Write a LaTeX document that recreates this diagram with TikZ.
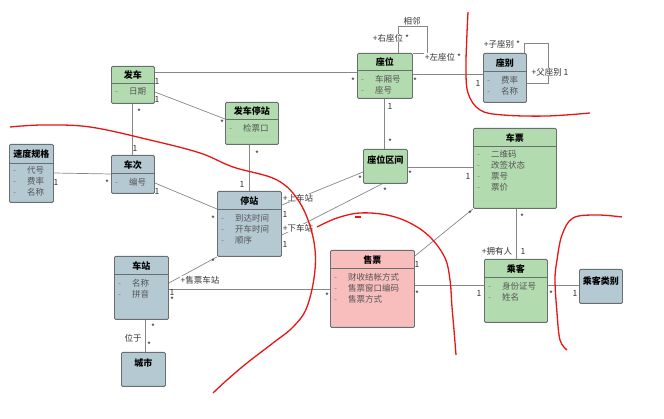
\documentclass[tikz,border=0pt]{standalone}
\usepackage{fontspec}
\newfontfamily\cjk{Noto Sans CJK SC}
\definecolor{clsgreen}{RGB}{179,219,176}
\definecolor{clsblue}{RGB}{181,201,211}
\definecolor{clspink}{RGB}{248,189,189}
\definecolor{clsborder}{RGB}{105,110,110}
\definecolor{linegray}{RGB}{135,135,135}
\definecolor{attrgray}{RGB}{85,85,85}
\definecolor{penred}{RGB}{235,20,20}
\newcommand{\attr}[1]{\makebox[14pt][l]{\color{gray}-}#1}

\begin{document}
\begin{tikzpicture}[x=1pt,y=-1pt,
    every node/.style={inner sep=0pt,font=\cjk\fontsize{8.5}{11}\selectfont},
    cls/.style={draw=clsborder,line width=0.9pt,rounded corners=1.2pt,anchor=north west},
    title/.style={font=\cjk\bfseries\fontsize{9}{11}\selectfont},
    attrs/.style={anchor=north west,align=left,text=attrgray},
    divider/.style={draw=clsborder,line width=0.8pt},
    assoc/.style={draw=linegray,line width=0.7pt},
    mult/.style={text=black!80,font=\cjk\fontsize{8.5}{10}\selectfont},
    star/.style={mult,yshift=-2.5pt},
    role/.style={fill=white,inner sep=0.5pt,text=black!80}]
  \useasboundingbox (0,0) rectangle (664,419);

  % classes, top row
  \node[cls,fill=clsgreen,minimum width=43pt,minimum height=37pt] (fache) at (111,66) {};
  \node[title] (fache-t) at ([yshift=-9pt]fache.north) {发车};
  \draw[divider] ([yshift=-17pt]fache.north west) -- ([yshift=-17pt]fache.north east);
  \node[attrs] (fache-a) at ([xshift=4pt,yshift=-21.7pt]fache.north west) {\attr{日期}};

  \node[cls,fill=clsgreen,minimum width=53pt,minimum height=42pt] (fcts) at (225,102) {};
  \node[title] (fcts-t) at ([yshift=-9pt]fcts.north) {发车停站};
  \draw[divider] ([yshift=-17pt]fcts.north west) -- ([yshift=-17pt]fcts.north east);
  \node[attrs] (fcts-a) at ([xshift=4pt,yshift=-21.7pt]fcts.north west) {\attr{检票口}};

  \node[cls,fill=clsgreen,minimum width=55pt,minimum height=45pt] (zuowei) at (357,53) {};
  \node[title] (zuowei-t) at ([yshift=-9pt]zuowei.north) {座位};
  \draw[divider] ([yshift=-17pt]zuowei.north west) -- ([yshift=-17pt]zuowei.north east);
  \node[attrs] (zuowei-a) at ([xshift=4pt,yshift=-21.7pt]zuowei.north west) {\attr{车厢号}\\\attr{座号}};

  \node[cls,fill=clsblue,minimum width=43pt,minimum height=49pt] (zuobie) at (483,53) {};
  \node[title] (zuobie-t) at ([yshift=-10pt]zuobie.north) {座别};
  \draw[divider] ([yshift=-18pt]zuobie.north west) -- ([yshift=-18pt]zuobie.north east);
  \node[attrs] (zuobie-a) at ([xshift=4pt,yshift=-22.7pt]zuobie.north west) {\attr{费率}\\\attr{名称}};

  % classes, middle
  \node[cls,fill=clsblue,minimum width=44pt,minimum height=58pt] (sudu) at (9,144) {};
  \node[title] (sudu-t) at ([yshift=-10.5pt]sudu.north) {速度规格};
  \draw[divider] ([yshift=-19pt]sudu.north west) -- ([yshift=-19pt]sudu.north east);
  \node[attrs] (sudu-a) at ([xshift=4pt,yshift=-22.7pt]sudu.north west) {\attr{代号}\\\attr{费率}\\\attr{名称}};

  \node[cls,fill=clsblue,minimum width=43pt,minimum height=38pt] (checi) at (111,155) {};
  \node[title] (checi-t) at ([yshift=-10pt]checi.north) {车次};
  \draw[divider] ([yshift=-18pt]checi.north west) -- ([yshift=-18pt]checi.north east);
  \node[attrs] (checi-a) at ([xshift=4pt,yshift=-22.7pt]checi.north west) {\attr{编号}};

  \node[cls,fill=clsblue,minimum width=64pt,minimum height=65pt] (tingzhan) at (217,191) {};
  \node[title] (tingzhan-t) at ([yshift=-10pt]tingzhan.north) {停站};
  \draw[divider] ([yshift=-18pt]tingzhan.north west) -- ([yshift=-18pt]tingzhan.north east);
  \node[attrs] (tingzhan-a) at ([xshift=4pt,yshift=-22.7pt]tingzhan.north west) {\attr{到达时间}\\\attr{开车时间}\\\attr{顺序}};

  \node[cls,fill=clsgreen,minimum width=44pt,minimum height=34pt] (zwqj) at (363,149) {};
  \node[title] (zwqj-t) at ([yshift=-11pt]zwqj.north) {座位区间};

  \node[cls,fill=clsgreen,minimum width=83pt,minimum height=80pt] (piao) at (473,128) {};
  \node[title] (piao-t) at ([yshift=-10pt]piao.north) {车票};
  \draw[divider] ([yshift=-18pt]piao.north west) -- ([yshift=-18pt]piao.north east);
  \node[attrs] (piao-a) at ([xshift=4pt,yshift=-21.7pt]piao.north west) {\attr{二维码}\\\attr{改签状态}\\\attr{票号}\\\attr{票价}};

  % classes, bottom row
  \node[cls,fill=clsblue,minimum width=54pt,minimum height=63pt] (chezhan) at (114,256) {};
  \node[title] (chezhan-t) at ([yshift=-10pt]chezhan.north) {车站};
  \draw[divider] ([yshift=-18pt]chezhan.north west) -- ([yshift=-18pt]chezhan.north east);
  \node[attrs] (chezhan-a) at ([xshift=4pt,yshift=-22.7pt]chezhan.north west) {\attr{名称}\\\attr{拼音}};

  \node[cls,fill=clsblue,minimum width=44pt,minimum height=34pt] (chengshi) at (121,352) {};
  \node[title] (chengshi-t) at ([yshift=-11pt]chengshi.north) {城市};

  \node[cls,fill=clspink,minimum width=84pt,minimum height=77pt] (shoupiao) at (330,250) {};
  \node[title] (shoupiao-t) at ([yshift=-10pt]shoupiao.north) {售票};
  \draw[divider] ([yshift=-18pt]shoupiao.north west) -- ([yshift=-18pt]shoupiao.north east);
  \node[attrs] (shoupiao-a) at ([xshift=4pt,yshift=-22.7pt]shoupiao.north west) {\attr{财收结帐方式}\\\attr{售票窗口编码}\\\attr{售票方式}};

  \node[cls,fill=clsgreen,minimum width=63pt,minimum height=63pt] (chengke) at (484,259) {};
  \node[title] (chengke-t) at ([yshift=-10pt]chengke.north) {乘客};
  \draw[divider] ([yshift=-18pt]chengke.north west) -- ([yshift=-18pt]chengke.north east);
  \node[attrs] (chengke-a) at ([xshift=4pt,yshift=-22.7pt]chengke.north west) {\attr{身份证号}\\\attr{姓名}};

  \node[cls,fill=clsblue,minimum width=43pt,minimum height=34pt] (cklb) at (579,269) {};
  \node[title] (cklb-t) at ([yshift=-12pt]cklb.north) {乘客类别};

  % associations
  \draw[assoc] (fache.east |- 0,72) -- (zuowei.west |- 0,72);
  \draw[assoc] (fache.east |- 0,92) -- (fcts.west |- 0,119);
  \draw[assoc] (fache.south -| 132,0) -- (checi.north -| 132,0);
  \draw[assoc] (sudu.east |- 0,173) -- (checi.west |- 0,174);
  \draw[assoc] (checi.east |- 0,183) -- (tingzhan.west |- 0,209);
  \draw[assoc] (fcts.south -| 249,0) -- (tingzhan.north -| 249,0);
  \draw[assoc] (zuowei.east |- 0,74) -- (zuobie.west |- 0,74);
  \draw[assoc] (zuowei.north -| 398,0) |- (427,26) |- (zuowei.north east);
  \draw[assoc] (zuobie.north -| 524,0) |- (548,43) |- (zuobie.east |- 0,83);
  \draw[assoc] (zuowei.south -| 384,0) -- (zwqj.north -| 384,0);
  \draw[assoc] (zwqj.east |- 0,167) -- (piao.west |- 0,167);
  \draw[assoc] (tingzhan.east |- 0,205) -- (zwqj.west |- 0,172);
  \draw[assoc] (tingzhan.east |- 0,235) -- (zwqj.south -| 382,0);
  \draw[assoc] (tingzhan.south west) -- (chezhan.east |- 0,283);
  \draw[assoc] (chezhan.east |- 0,289) -- (shoupiao.west |- 0,289);
  \draw[assoc] (chezhan.south -| 145,0) -- (chengshi.north -| 145,0);
  \draw[assoc] (shoupiao.east |- 0,256) -- (piao.south west);
  \draw[assoc] (shoupiao.east |- 0,285) -- (chengke.west |- 0,285);
  \draw[assoc] (piao.south -| 516,0) -- (chengke.north -| 516,0);
  \draw[assoc] (chengke.east |- 0,285) -- (cklb.west |- 0,285);

  % role names
  \node[role] (r-xianglin) at (412,21) {相邻};
  \node[role] (r-you) at (391,38) {+右座位 *};
  \node[role] (r-zuo) at (443,57) {+左座位 *};
  \node[role] (r-zi) at (502,44) {+子座别 *};
  \node[role] (r-fu) at (550,72) {+父座别 1};
  \node[role] (r-shang) at (298,198) {+上车站};
  \node[role] (r-xia) at (298,228) {+下车站};
  \node[role] (r-shoupiao) at (200,280) {+售票车站};
  \node[role] (r-yongyou) at (497,251) {+拥有人};
  \node[role] (r-weiyu) at (133,338) {位于};

  % multiplicities
  \node[mult] (m1) at (157,81) {1};
  \node[star] (m2) at (353,79) {*};
  \node[mult] (m3) at (157,99) {1};
  \node[star] (m4) at (222,121) {*};
  \node[star] (m5) at (139,110) {*};
  \node[mult] (m6) at (135,148) {1};
  \node[mult] (m7) at (56,182) {1};
  \node[star] (m8) at (107,181) {*};
  \node[mult] (m9) at (157,191) {1};
  \node[star] (m10) at (213,217) {*};
  \node[star] (m11) at (257,152) {*};
  \node[mult] (m12) at (242,184) {1};
  \node[star] (m13) at (415,79) {*};
  \node[mult] (m14) at (478,83) {1};
  \node[mult] (m15) at (390,106) {1};
  \node[star] (m16) at (390,140) {*};
  \node[star] (m17) at (410,172) {*};
  \node[mult] (m18) at (468,176) {1};
  \node[star] (m19) at (360,177) {*};
  \node[mult] (m20) at (285,214) {1};
  \node[star] (m21) at (385,189) {*};
  \node[mult] (m22) at (285,244) {1};
  \node[star] (m23) at (213,260) {*};
  \node[mult] (m24) at (172,292) {1};
  \node[star] (m25) at (172,298) {*};
  \node[star] (m26) at (327,294) {*};
  \node[star] (m27) at (153,325) {*};
  \node[star] (m28) at (149,343) {*};
  \node[mult] (m29) at (417,264) {1};
  \node[star] (m30) at (470,212) {*};
  \node[star] (m31) at (417,292) {*};
  \node[mult] (m32) at (479,293) {1};
  \node[star] (m33) at (522,215) {*};
  \node[mult] (m34) at (523,251) {1};
  \node[star] (m35) at (551,292) {*};
  \node[mult] (m36) at (575,293) {1};

  % red pen strokes
  \draw[penred,line width=1.3pt] plot[smooth,tension=0.6] coordinates {(10,127) (43,125) (90,127) (150,140) (200,153) (233,167) (277,180) (300,203) (313,237) (315,270) (307,307) (293,327) (273,343) (247,363) (227,380) (213,393)};
  \draw[penred,line width=1.3pt] plot[smooth,tension=0.6] coordinates {(317,227) (337,218) (360,213) (387,215) (410,223) (430,237) (445,258) (450,280) (452,307) (454,330) (456,355)};
  \draw[penred,line width=1.3pt] (355,217) -- (361,217);
  \draw[penred,line width=1.3pt] plot[smooth,tension=0.6] coordinates {(622,217) (597,215) (573,218) (562,235) (557,260) (555,280) (557,313) (560,340) (567,350)};
  \draw[penred,line width=1.3pt] plot[smooth,tension=0.6] coordinates {(468,12) (467,33) (466,67) (468,93) (480,110) (503,115) (547,116) (590,113)};
\end{tikzpicture}
\end{document}
